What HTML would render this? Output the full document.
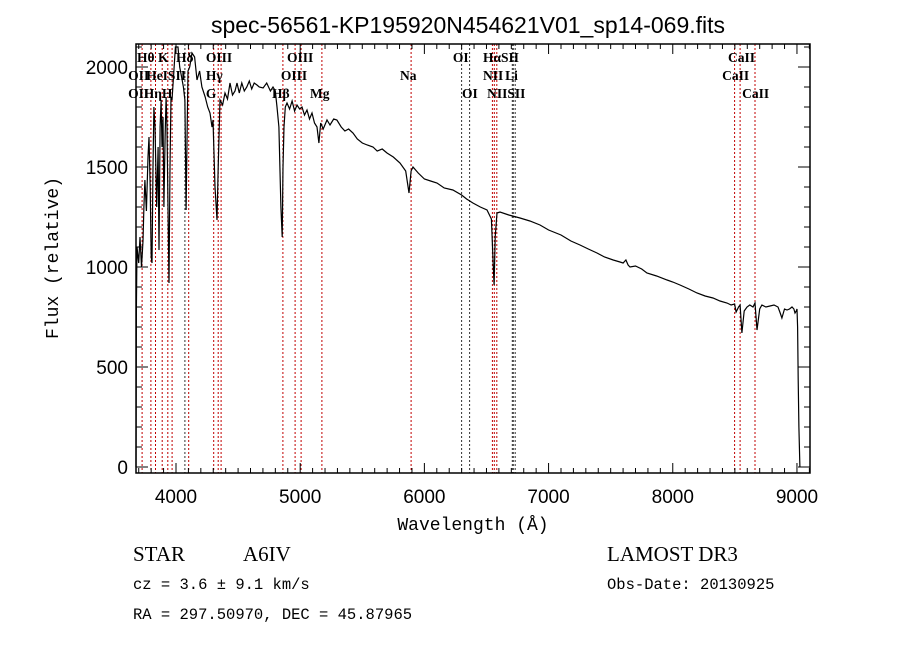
<!DOCTYPE html>
<html><head><meta charset="utf-8"><style>
body{margin:0;background:#fff;width:900px;height:649px;overflow:hidden}
svg{display:block}
text{fill:#000}
</style></head><body>
<svg id="chart" width="900" height="649" xmlns="http://www.w3.org/2000/svg">
<text x="468" y="33" font-family="Liberation Sans, sans-serif" font-size="23" text-anchor="middle">spec-56561-KP195920N454621V01_sp14-069.fits</text>
<g id="lines"></g>
<g id="labels" font-family="Liberation Serif, serif" font-size="13.5" font-weight="bold"></g>
<polyline id="spec" fill="none" stroke="#000" stroke-width="1.2"/>
<rect x="136" y="44" width="674" height="429" fill="none" stroke="#000" stroke-width="1.5"/>
<g id="ticks" stroke="#000" stroke-width="1"></g>
<g id="ticklabels" font-family="Liberation Sans, sans-serif" font-size="19"></g>
<text x="473" y="530" font-family="Liberation Mono, monospace" font-size="18" text-anchor="middle">Wavelength (Å)</text>
<text transform="translate(58,258) rotate(-90)" font-family="Liberation Mono, monospace" font-size="18" text-anchor="middle">Flux (relative)</text>
<text x="133" y="561" font-family="Liberation Serif, serif" font-size="21">STAR</text>
<text x="243" y="561" font-family="Liberation Serif, serif" font-size="21">A6IV</text>
<text x="607" y="561" font-family="Liberation Serif, serif" font-size="21">LAMOST DR3</text>
<text x="133" y="589" font-family="Liberation Mono, monospace" font-size="15.5">cz = 3.6 ± 9.1 km/s</text>
<text x="607" y="589" font-family="Liberation Mono, monospace" font-size="15.5">Obs-Date: 20130925</text>
<text x="133" y="619" font-family="Liberation Mono, monospace" font-size="15.5">RA = 297.50970, DEC =  45.87965</text>
</svg>
<script>
const wavelengths=[3678,3681,3686,3700,3710,3722,3734,3742,3750,3762,3775,3783,3792,3800,3807,3815,3822,3831,3845,3856,3863,3872,3880,3887,3895,3903,3912,3920,3928,3936,3944,3952,3960,3968,3980,3995,4016,4030,4045,4060,4072,4081,4090,4097,4110,4129,4150,4169,4190,4209,4235,4255,4274,4290,4298,4314,4330,4340,4354,4375,4395,4415,4435,4455,4475,4491,4510,4530,4550,4570,4590,4610,4630,4652,4670,4701,4730,4760,4781,4800,4813,4829,4845,4855,4862,4870,4880,4894,4915,4935,4955,4974,4995,5015,5035,5055,5075,5095,5115,5135,5151,5165,5185,5216,5240,5270,5296,5330,5360,5390,5425,5460,5500,5540,5586,5620,5660,5699,5750,5804,5850,5876,5893,5908,5950,6000,6050,6102,6160,6230,6300,6340,6391,6450,6504,6540,6555,6561,6570,6585,6609,6680,6770,6850,6931,7000,7100,7180,7253,7320,7390,7450,7520,7575,7600,7623,7640,7656,7700,7750,7792,7870,7954,8000,8058,8130,8195,8260,8324,8380,8437,8470,8498,8510,8530,8542,8557,8575,8598,8620,8646,8662,8678,8700,8718,8750,8783,8815,8847,8865,8879,8900,8920,8940,8960,8975,8984,8995,9000,9005,9010,9016,9024];
const fluxes=[0,800,1100,1020,1150,1000,1130,1300,1435,1280,1550,1650,1400,1050,1020,1500,1800,1700,1300,1600,1085,1700,1835,1600,1750,1300,1650,1850,1700,1300,920,1500,1850,1835,1950,2100,2100,2000,1950,1900,1835,1285,1700,1980,2000,2070,2050,1935,1980,1900,1850,1800,1770,1700,1735,1400,1235,1500,1835,1810,1870,1840,1920,1860,1880,1920,1870,1920,1880,1900,1930,1890,1920,1910,1900,1895,1920,1880,1900,1880,1800,1700,1300,1150,1500,1700,1800,1820,1790,1830,1780,1810,1790,1800,1760,1785,1740,1770,1720,1700,1620,1720,1690,1735,1710,1740,1735,1700,1680,1690,1670,1640,1620,1610,1600,1580,1590,1570,1550,1520,1480,1370,1480,1500,1470,1440,1430,1420,1395,1385,1360,1340,1320,1300,1285,1240,1000,910,1150,1270,1275,1260,1245,1230,1210,1185,1160,1130,1110,1090,1070,1050,1035,1025,1020,1035,1010,1000,1005,990,970,955,935,925,910,890,870,855,845,830,820,810,815,775,800,810,670,780,800,810,800,820,685,790,810,800,805,810,800,770,745,790,785,790,800,790,770,780,790,700,435,200,0];
const lineWaves=[3727,3798,3835,3889,3934,3969,4072,4102,4304,4340,4363,4861,4959,5007,5175,5893,6300,6364,6548,6563,6583,6708,6716,6731,8498,8542,8662];
const lineDark=[0,0,0,0,0,0,1,0,0,0,0,0,0,0,0,0,1,1,0,0,0,1,1,1,0,0,0];
const labelTexts=["Hθ","K","Hδ","OIII","OIII","OI","HαSII","CaII","OII","HeISII","Hγ","OIII","Na","NII","Li","CaII","OII","HηH","G","Hβ","Mg","OI","NIISII","CaII"];
const labelWaves=[3686,3855,4000,4241,4894,6230,6472,8445,3614,3760,4241,4845,5804,6472,6650,8397,3614,3740,4241,4773,5079,6303,6505,8558];
const labelRows=[0,0,0,0,0,0,0,0,1,1,1,1,1,1,1,1,2,2,2,2,2,2,2,2];
const xTicksMajor=[4000,5000,6000,7000,8000,9000];
const yTicksMajor=[0,500,1000,1500,2000];

const X0=136,X1=810,Y0=44,Y1=473;
const wMin=3678,wMax=9105,fMin=-30,fMax=2115;
const xs=w=>X0+(w-wMin)/(wMax-wMin)*(X1-X0);
const ys=f=>Y1-(f-fMin)/(fMax-fMin)*(Y1-Y0);
const NS='http://www.w3.org/2000/svg';
function mk(tag,parent){const e=document.createElementNS(NS,tag);parent.appendChild(e);return e;}

const spec=document.getElementById('spec');
spec.setAttribute('points',wavelengths.map((w,i)=>xs(w).toFixed(1)+','+Math.max(Y0,Math.min(Y1,ys(fluxes[i]))).toFixed(1)).join(' '));

const lg=document.getElementById('lines');
lineWaves.forEach((w,i)=>{const l=mk('line',lg);


const x=xs(w).toFixed(1);l.setAttribute('x1',x);l.setAttribute('x2',x);l.setAttribute('y1',Y0);l.setAttribute('y2',Y1);
l.setAttribute('stroke',lineDark[i]?'#333':'#c00000');l.setAttribute('stroke-width','1');l.setAttribute('stroke-dasharray','2,2');});

const lb=document.getElementById('labels');
labelTexts.forEach((t,i)=>{const e=mk('text',lb);


e.setAttribute('x',xs(labelWaves[i]).toFixed(1));e.setAttribute('y',62+labelRows[i]*18);e.textContent=t;});

const tg=document.getElementById('ticks'),tl=document.getElementById('ticklabels');
function tick(x1,y1,x2,y2){const l=mk('line',tg);l.setAttribute('x1',x1);l.setAttribute('y1',y1);l.setAttribute('x2',x2);l.setAttribute('y2',y2);}
for(let w=3700;w<=9100;w+=100){const x=xs(w);const L=(w%1000===0)?10:5;tick(x,Y1,x,Y1-L);tick(x,Y0,x,Y0+L);}
for(let f=0;f<=2100;f+=100){const y=ys(f);const L=(f%500===0)?12:6;tick(X0,y,X0+L,y);tick(X1,y,X1-L,y);}
xTicksMajor.forEach(w=>{const e=mk('text',tl);


e.setAttribute('x',xs(w));e.setAttribute('y',503);e.setAttribute('text-anchor','middle');e.textContent=w;});
yTicksMajor.forEach(f=>{const e=mk('text',tl);


e.setAttribute('x',128);e.setAttribute('y',ys(f)+7);e.setAttribute('text-anchor','end');e.textContent=f;});
</script>
</body></html>
